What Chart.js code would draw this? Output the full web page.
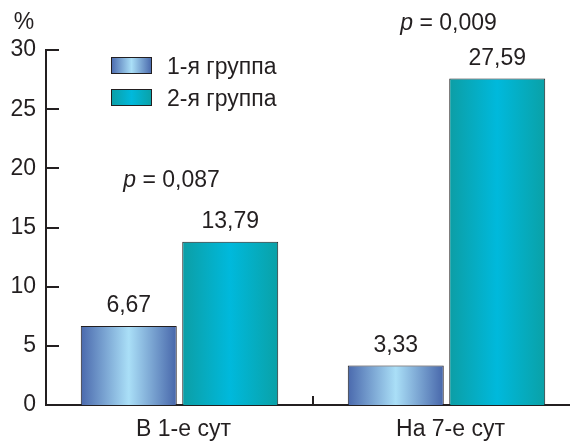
<!DOCTYPE html>
<html>
<head>
<meta charset="utf-8">
<script src="https://cdn.jsdelivr.net/npm/chart.js@4.4.1/dist/chart.umd.min.js"></script>
<style>
    html, body { margin: 0; padding: 0; background: #fff; overflow: hidden; }
    #wrap { width: 580px; height: 444px; }
</style>
</head>
<body>
<div id="wrap"><canvas id="chart" width="580" height="444"></canvas></div>
<script>
const categories = ['В 1-е сут', 'На 7-е сут'];
const seriesNames = ['1-я группа', '2-я группа'];
const group1 = [6.67, 3.33];
const group2 = [13.79, 27.59];
const valueLabels1 = ['6,67', '3,33'];
const valueLabels2 = ['13,79', '27,59'];
const pValues = ['0,087', '0,009'];
const yMin = 0, yMax = 30, yStep = 5;

const textColor = '#231f20';
const fontFamily = '"Liberation Sans", Arial, Helvetica, sans-serif';
const fontSize = 23;

// gradient stops for the two series (dark edges, light centre)
const stops = [
    [[0, '#4a69ad'], [0.5, '#aadff7'], [1, '#4766aa']],
    [[0, '#0c9ea5'], [0.5, '#00b9dc'], [1, '#0aa1a7']]
];

function makeGradient(ctx, x0, x1, s) {
    const g = ctx.createLinearGradient(x0, 0, x1, 0);
    s.forEach(([o, c]) => g.addColorStop(o, c));
    return g;
}

// paints each bar with its own horizontal gradient
const barGradients = {
    id: 'barGradients',
    beforeDatasetsDraw(chart) {
        const ctx = chart.ctx;
        chart.data.datasets.forEach((ds, i) => {
            chart.getDatasetMeta(i).data.forEach(bar => {
                const x0 = bar.x - bar.width / 2;
                const x1 = bar.x + bar.width / 2;
                bar.options = Object.assign({}, bar.options, {
                    backgroundColor: makeGradient(ctx, x0, x1, stops[i])
                });
            });
        });
    }
};

// ticks drawn inward, value labels, p values, legend and the % unit
const decorations = {
    id: 'decorations',
    afterDraw(chart) {
        const ctx = chart.ctx;
        const x = chart.scales.x;
        const y = chart.scales.y;
        const area = chart.chartArea;
        const normal = fontSize + 'px ' + fontFamily;
        const italic = 'italic ' + fontSize + 'px ' + fontFamily;
        ctx.save();
        ctx.strokeStyle = textColor;
        ctx.lineWidth = 2;

        // y ticks pointing into the plot
        for (let v = yMin; v <= yMax; v += yStep) {
            const py = Math.round(y.getPixelForValue(v));
            ctx.beginPath();
            ctx.moveTo(area.left, py);
            ctx.lineTo(area.left + 13, py);
            ctx.stroke();
        }
        // x tick between the two categories
        const mid = (x.getPixelForValue(0) + x.getPixelForValue(1)) / 2;
        ctx.beginPath();
        ctx.moveTo(mid, area.bottom);
        ctx.lineTo(mid, area.bottom - 9);
        ctx.stroke();

        ctx.fillStyle = textColor;
        ctx.font = normal;
        ctx.textBaseline = 'alphabetic';

        // unit
        ctx.textAlign = 'center';
        ctx.fillText('%', 24, 29);

        // values above bars
        const labels = [valueLabels1, valueLabels2];
        chart.data.datasets.forEach((ds, i) => {
            chart.getDatasetMeta(i).data.forEach((bar, j) => {
                ctx.fillText(labels[i][j], bar.x, bar.y - 14);
            });
        });

        // p values above each group
        const pShiftX = [-8, 2];
        const pShiftY = [-55, -49];
        categories.forEach((c, j) => {
            const top = y.getPixelForValue(Math.max(group1[j], group2[j]));
            const cx = x.getPixelForValue(j) + pShiftX[j];
            const by = top + pShiftY[j];
            ctx.font = italic;
            const wp = ctx.measureText('p').width;
            ctx.font = normal;
            const rest = ' = ' + pValues[j];
            const wr = ctx.measureText(rest).width;
            const sx = cx - (wp + wr) / 2;
            ctx.textAlign = 'left';
            ctx.font = italic;
            ctx.fillText('p', sx, by);
            ctx.font = normal;
            ctx.fillText(rest, sx + wp, by);
        });

        // legend
        seriesNames.forEach((name, i) => {
            const bx = 111, by = 57 + i * 32, bw = 41, bh = 17;
            ctx.fillStyle = makeGradient(ctx, bx, bx + bw, stops[i]);
            ctx.fillRect(bx, by, bw, bh);
            ctx.lineWidth = 1;
            ctx.strokeRect(bx + 0.5, by + 0.5, bw - 1, bh - 1);
            ctx.fillStyle = textColor;
            ctx.textAlign = 'left';
            ctx.fillText(name, 167, by + 17);
        });
        ctx.restore();
    }
};

const chart = new Chart(document.getElementById('chart').getContext('2d'), {
    type: 'bar',
    data: {
        labels: categories,
        datasets: [
            { label: seriesNames[0], data: group1, backgroundColor: '#7ea5d8' },
            { label: seriesNames[1], data: group2, backgroundColor: '#04adc2' }
        ]
    },
    options: {
        responsive: false,
        animation: false,
        devicePixelRatio: 1,
        layout: { padding: { top: 50, right: 0, bottom: 0, left: 0 } },
        categoryPercentage: 0.76,
        barPercentage: 0.946,
        elements: {
            bar: { borderWidth: 1, borderColor: textColor }
        },
        plugins: {
            legend: { display: false },
            tooltip: { enabled: false }
        },
        scales: {
            x: {
                grid: { display: false, drawTicks: false },
                border: { display: true, color: textColor, width: 2 },
                ticks: {
                    color: textColor,
                    padding: 11,
                    labelOffset: 4,
                    font: { family: fontFamily, size: fontSize }
                },
                afterFit: (s) => { s.height = 39; }
            },
            y: {
                min: yMin,
                max: yMax,
                grid: { display: false, drawTicks: false },
                border: { display: true, color: textColor, width: 2 },
                ticks: {
                    stepSize: yStep,
                    color: textColor,
                    padding: 10,
                    font: { family: fontFamily, size: fontSize }
                },
                afterFit: (s) => { s.width = 46; }
            }
        }
    },
    plugins: [barGradients, decorations]
});
</script>
</body>
</html>
